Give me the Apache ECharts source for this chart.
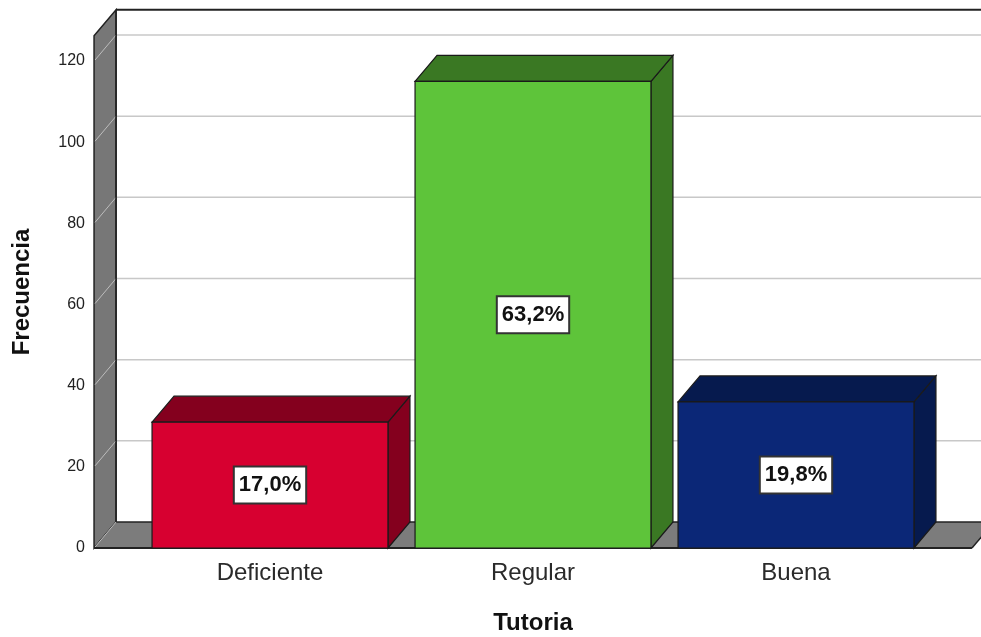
<!DOCTYPE html>
<html><head><meta charset="utf-8">
<script src="https://cdn.jsdelivr.net/npm/echarts@6/dist/echarts.min.js"></script>
<style>html,body{margin:0;padding:0;background:#fff}#c{width:981px;height:637px}</style>
</head><body><div id="c"></div>
<script>
const categories = ['Deficiente', 'Regular', 'Buena'];
const counts = [31, 115, 36];
const percents = ['17,0%', '63,2%', '19,8%'];
const yTicks = [0, 20, 40, 60, 80, 100, 120];
const wallTopValue = 126.2;
const frontColors = ['#D70030', '#5EC43A', '#0B2777'];
const shadeColors = ['#84001E', '#3A7823', '#061A4E'];

const DX = 22, DY = -26;
const FONT = '"Liberation Sans", Arial, sans-serif';
const chart = echarts.init(document.getElementById('c'), null, {renderer: 'canvas'});

function frameRender(params, api) {
  const band = api.size([1, 0])[0];
  const p0 = api.coord([0, 0]);
  const p2 = api.coord([2, 0]);
  const left = p0[0] - band * 0.669;
  const right = p2[0] + band * 0.669;
  const y0 = p0[1];
  const yTop = api.coord([0, wallTopValue])[1];
  const ch = [];
  ch.push({type: 'line', shape: {x1: left + DX, y1: yTop + DY, x2: right + DX + 60, y2: yTop + DY}, style: {stroke: '#222', lineWidth: 2}});
  yTicks.forEach(v => {
    if (v === 0) return;
    const y = api.coord([0, v])[1];
    ch.push({type: 'line', shape: {x1: left + DX, y1: y + DY, x2: right + DX + 60, y2: y + DY}, style: {stroke: '#c8c8c8', lineWidth: 1.5}});
  });
  ch.push({type: 'polygon', shape: {points: [[left, yTop], [left + DX, yTop + DY], [left + DX, y0 + DY], [left, y0]]}, style: {fill: '#777777', stroke: '#222', lineWidth: 1.5}});
  ch.push({type: 'polygon', shape: {points: [[left, y0], [left + DX, y0 + DY], [right + DX, y0 + DY], [right, y0]]}, style: {fill: '#7c7c7c'}});
  ch.push({type: 'line', shape: {x1: left + DX, y1: y0 + DY, x2: right + DX, y2: y0 + DY}, style: {stroke: '#222', lineWidth: 1.5}});
  ch.push({type: 'line', shape: {x1: right, y1: y0, x2: right + DX, y2: y0 + DY}, style: {stroke: '#222', lineWidth: 1.5}});
  ch.push({type: 'line', shape: {x1: left, y1: y0, x2: right, y2: y0}, style: {stroke: '#222', lineWidth: 2}});
  yTicks.forEach(v => {
    const y = api.coord([0, v])[1];
    ch.push({type: 'line', shape: {x1: left + 1, y1: y - 1, x2: left + DX, y2: y + DY}, style: {stroke: '#bdbdbd', lineWidth: 1}});
  });
  ch.push({type: 'line', shape: {x1: left + DX, y1: yTop + DY, x2: left + DX, y2: y0 + DY}, style: {stroke: '#222', lineWidth: 1.5}});
  return {type: 'group', children: ch};
}

function barRender(params, api) {
  const i = api.value(0);
  const v = api.value(1);
  const band = api.size([1, 0])[0];
  const w = band * 0.897;
  const top = api.coord([i, v]);
  const base = api.coord([i, 0]);
  const x1 = top[0] - w / 2, x2 = top[0] + w / 2, yT = top[1], yB = base[1];
  const line = {stroke: '#1a1a1a', lineWidth: 1.2};
  return {type: 'group', children: [
    {type: 'polygon', shape: {points: [[x2, yT], [x2 + DX, yT + DY], [x2 + DX, yB + DY], [x2, yB]]}, style: Object.assign({fill: shadeColors[i]}, line)},
    {type: 'polygon', shape: {points: [[x1, yT], [x1 + DX, yT + DY], [x2 + DX, yT + DY], [x2, yT]]}, style: Object.assign({fill: shadeColors[i]}, line)},
    {type: 'rect', shape: {x: x1, y: yT, width: w, height: yB - yT}, style: Object.assign({fill: frontColors[i]}, line)},
    {type: 'text', x: top[0], y: (yT + yB) / 2, style: {
      text: percents[i], fill: '#111', font: 'bold 22px ' + FONT,
      align: 'center', verticalAlign: 'middle', backgroundColor: '#fff',
      borderColor: '#333', borderWidth: 2, padding: [7, 4, 6, 4]
    }}
  ]};
}

chart.setOption({
  animation: false,
  grid: [
    {left: 138.5, right: 53.5, top: 61, bottom: 89, outerBoundsMode: 'none', containLabel: false},
    {left: 94, right: 53.5, top: 61, bottom: 89, outerBoundsMode: 'none', containLabel: false}
  ],
  xAxis: [
    {type: 'category', gridIndex: 0, data: categories,
     axisLine: {show: false}, axisTick: {show: false},
     axisLabel: {fontSize: 24, color: '#2a2a2a', margin: 13, fontFamily: FONT},
     name: 'Tutoria', nameLocation: 'middle', nameGap: 63,
     nameTextStyle: {fontSize: 24, fontWeight: 'bold', color: '#111', fontFamily: FONT}},
    {type: 'value', gridIndex: 1, show: false}
  ],
  yAxis: [
    {type: 'value', gridIndex: 0, min: 0, max: 120, interval: 20, show: false},
    {type: 'value', gridIndex: 1, min: 0, max: 120, interval: 20,
     axisLine: {show: false}, axisTick: {show: false}, splitLine: {show: false},
     axisLabel: {fontSize: 16, color: '#222', margin: 9, fontFamily: FONT}}
  ],
  graphic: [{
    type: 'text', x: 22, y: 292, rotation: Math.PI / 2,
    style: {text: 'Frecuencia', font: 'bold 24px ' + FONT, fill: '#111', align: 'center', verticalAlign: 'middle'}
  }],
  series: [
    {type: 'custom', xAxisIndex: 0, yAxisIndex: 0, data: [[0, 0]], renderItem: frameRender, z: 1, silent: true},
    {type: 'custom', xAxisIndex: 0, yAxisIndex: 0, data: counts.map((c, i) => [i, c]), renderItem: barRender, z: 2, silent: true}
  ]
});
</script>
</body></html>
